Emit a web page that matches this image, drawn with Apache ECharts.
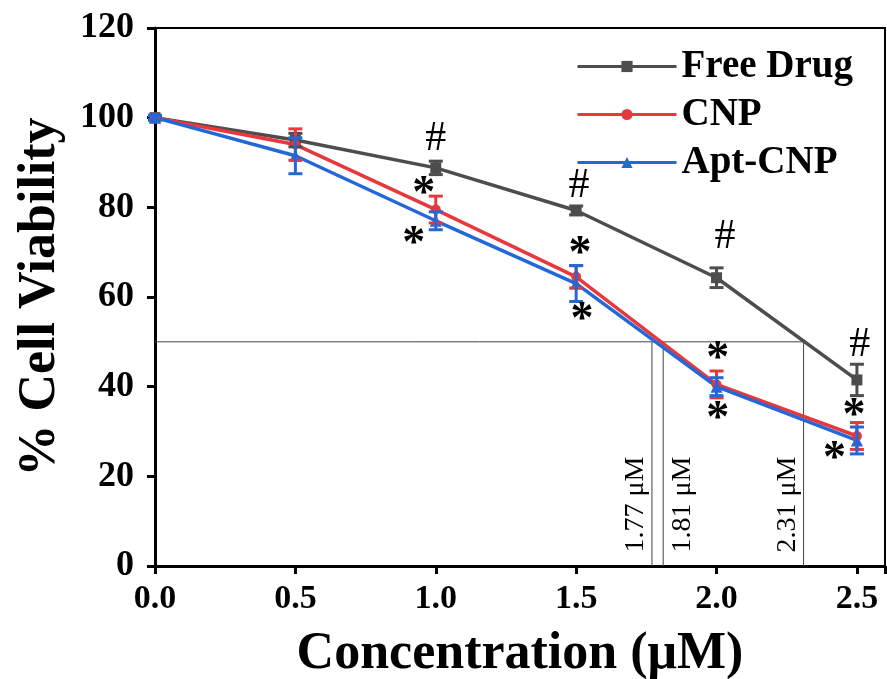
<!DOCTYPE html>
<html>
<head>
<meta charset="utf-8">
<script src="https://cdn.jsdelivr.net/npm/echarts@6/dist/echarts.min.js"></script>
<style>
  html, body { margin: 0; padding: 0; background: #fff; }
  #main { width: 887px; height: 679px; }
</style>
</head>
<body>
<div id="main"></div>
<script>
// concentrations (uM)
const conc = [0, 0.5, 1.0, 1.5, 2.0, 2.5];
const freeDrug = [100, 95, 88.8, 79.3, 64.3, 41.5];
const freeDrugErr = [0.5, 1.5, 1.5, 1, 2.2, 3.5];
const cnp = [100, 94, 79.5, 64.5, 40.5, 29];
const cnpErr = [0.5, 3.5, 3, 2.5, 3, 3];
const aptCnp = [100, 91.5, 77, 63, 40, 28];
const aptCnpErr = [0.5, 4, 2, 4, 2, 3];

// IC50 guide lines
const ic50Values = [1.77, 1.81, 2.31];
const ic50Labels = ['1.77 μM', '1.81 μM', '2.31 μM'];
const ic50Level = 50;

// significance marks: [x, y, text]
const hashMarks = [[1.0, 95.2, '#'], [1.51, 84.7, '#'], [2.03, 73.3, '#'], [2.51, 49.4, '#']];
const starMarks = [
    [0.957, 84.5, '*'], [0.922, 73.3, '*'],
    [1.514, 71.1, '*'], [1.521, 56.5, '*'],
    [2.004, 47.6, '*'], [2.004, 34.4, '*'],
    [2.49, 34.9, '*'], [2.42, 25.5, '*']
];

const serif = "'Liberation Serif', 'Times New Roman', serif";
const colors = { free: '#4d4d4d', cnp: '#e8383d', apt: '#2468d8' };

const chart = echarts.init(document.getElementById('main'));

function toPairs(ys) {
    return conc.map((x, i) => [x, ys[i]]);
}

function errorBarSeries(name, ys, errs, color) {
    return {
        name: name,
        type: 'custom',
        silent: true,
        z: 5,
        data: conc.map((x, i) => [x, ys[i] - errs[i], ys[i] + errs[i]]),
        renderItem: function (params, api) {
            const lo = api.coord([api.value(0), api.value(1)]);
            const hi = api.coord([api.value(0), api.value(2)]);
            const half = 7;
            const style = { stroke: color, lineWidth: 3 };
            return {
                type: 'group',
                children: [
                    { type: 'line', shape: { x1: lo[0], y1: lo[1], x2: hi[0], y2: hi[1] }, style: style },
                    { type: 'line', shape: { x1: lo[0] - half, y1: lo[1], x2: lo[0] + half, y2: lo[1] }, style: style },
                    { type: 'line', shape: { x1: hi[0] - half, y1: hi[1], x2: hi[0] + half, y2: hi[1] }, style: style }
                ]
            };
        }
    };
}

// plain text placed at data coordinates
function textSeries(name, marks, font, dy) {
    return {
        name: name,
        type: 'custom',
        silent: true,
        z: 6,
        data: marks,
        renderItem: function (params, api) {
            const p = api.coord([api.value(0), api.value(1)]);
            return {
                type: 'text',
                x: p[0],
                y: p[1] + dy,
                style: {
                    text: marks[params.dataIndex][2],
                    fill: '#000',
                    font: font,
                    align: 'center',
                    verticalAlign: 'middle'
                }
            };
        }
    };
}

const guideLines = [
    {
        type: 'line', silent: true, symbol: 'none', z: 1,
        lineStyle: { color: '#444', width: 1 },
        data: [[0, ic50Level], [ic50Values[2], ic50Level]]
    }
].concat(ic50Values.map(v => ({
    type: 'line', silent: true, symbol: 'none', z: 1,
    lineStyle: { color: '#444', width: 1 },
    data: [[v, 0], [v, ic50Level]]
})));

const guideLabels = {
    type: 'custom',
    silent: true,
    z: 6,
    data: ic50Values.map(v => [v, 3]),
    renderItem: function (params, api) {
        const i = params.dataIndex;
        const p = api.coord([api.value(0), api.value(1)]);
        return {
            type: 'text',
            x: p[0] + (i === 1 ? 5 : -2),
            y: p[1],
            rotation: Math.PI / 2,
            style: {
                text: ic50Labels[i],
                fill: '#000',
                font: '28px ' + serif,
                align: 'left',
                verticalAlign: i === 1 ? 'top' : 'bottom'
            }
        };
    }
};

const option = {
    animation: false,
    backgroundColor: '#fff',
    grid: {
        left: 155, right: 2, top: 28, bottom: 113,
        outerBoundsMode: 'none',
        show: true, borderColor: '#000', borderWidth: 2
    },
    legend: {
        data: ['Free Drug', 'CNP', 'Apt-CNP'],
        orient: 'vertical',
        left: 571,
        top: 42,
        itemWidth: 99,
        itemHeight: 14,
        itemGap: 9,
        lineStyle: { width: 3 },
        textStyle: { fontFamily: serif, fontSize: 39, fontWeight: 'bold', color: '#000' }
    },
    xAxis: {
        type: 'value',
        min: 0,
        max: 2.6,
        interval: 0.5,
        splitLine: { show: false },
        axisLine: { lineStyle: { color: '#000', width: 3 } },
        axisTick: { show: true, length: 8, lineStyle: { color: '#000', width: 3 } },
        axisLabel: {
            margin: 16,
            color: '#000',
            fontFamily: serif,
            fontSize: 34,
            fontWeight: 'bold',
            formatter: v => (Math.abs(v * 2 - Math.round(v * 2)) < 1e-6 ? v.toFixed(1) : '')
        },
        name: 'Concentration (μM)',
        nameLocation: 'middle',
        nameGap: 63,
        nameTextStyle: { color: '#000', fontFamily: serif, fontSize: 52, fontWeight: 'bold' }
    },
    yAxis: {
        type: 'value',
        min: 0,
        max: 120,
        interval: 20,
        splitLine: { show: false },
        axisLine: { lineStyle: { color: '#000', width: 3 } },
        axisTick: { show: true, length: 8, lineStyle: { color: '#000', width: 3 } },
        axisLabel: {
            margin: 21,
            color: '#000',
            fontFamily: serif,
            fontSize: 36,
            fontWeight: 'bold'
        },
        name: '% Cell Viability',
        nameLocation: 'middle',
        nameGap: 88,
        nameTextStyle: { color: '#000', fontFamily: serif, fontSize: 52, fontWeight: 'bold' }
    },
    series: guideLines.concat([
        {
            name: 'Free Drug', type: 'line', data: toPairs(freeDrug),
            symbol: 'rect', symbolSize: 11, z: 3,
            itemStyle: { color: colors.free },
            lineStyle: { color: colors.free, width: 3.5 }
        },
        {
            name: 'CNP', type: 'line', data: toPairs(cnp),
            symbol: 'circle', symbolSize: 10, z: 3,
            itemStyle: { color: colors.cnp },
            lineStyle: { color: colors.cnp, width: 3.5 }
        },
        {
            name: 'Apt-CNP', type: 'line', data: toPairs(aptCnp),
            symbol: 'triangle', symbolSize: 12, z: 3,
            itemStyle: { color: colors.apt },
            lineStyle: { color: colors.apt, width: 3.5 }
        },
        errorBarSeries('Free Drug err', freeDrug, freeDrugErr, colors.free),
        errorBarSeries('CNP err', cnp, cnpErr, colors.cnp),
        errorBarSeries('Apt-CNP err', aptCnp, aptCnpErr, colors.apt),
        textSeries('hash', hashMarks, '42px ' + serif, 0),
        textSeries('star', starMarks, 'bold 46px ' + serif, 8),
        guideLabels
    ])
};

chart.setOption(option);
</script>
</body>
</html>
